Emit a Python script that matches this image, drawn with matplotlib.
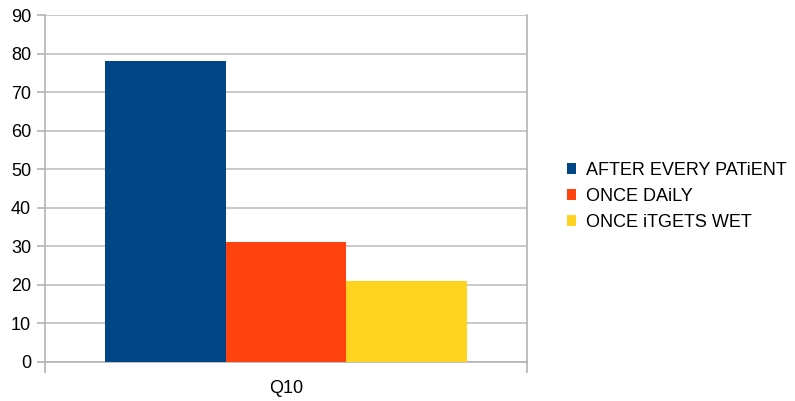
import matplotlib.pyplot as plt
from matplotlib.patches import Patch

plt.rcParams['font.family'] = ['Liberation Sans', 'DejaVu Sans']

categoria = 'Q10'
series = ['AFTER EVERY PATiENT', 'ONCE DAiLY', 'ONCE iTGETS WET']
valores = [78, 31, 21]
cores = ['#004586', '#ff420e', '#ffd320']

fig = plt.figure(figsize=(7.95, 4.01), dpi=100)
ax = fig.add_axes([45 / 795, 39 / 401, 482 / 795, 347 / 401])

posicoes = [-1, 0, 1]
for x, v, c in zip(posicoes, valores, cores):
    ax.bar(x, v, width=1.0, color=c, zorder=3)

ax.set_xlim(-2, 2)
ax.set_ylim(0, 90)
ax.set_yticks(range(0, 91, 10))
ax.yaxis.grid(True, color='#c0c0c0', linewidth=1.2, zorder=0)

ax.set_xticks([0])
ax.set_xticklabels([categoria])
ax.set_xticks([-2, 2], minor=True)
ax.tick_params(axis='x', which='major', length=0, pad=13, labelsize=13)
ax.tick_params(axis='x', which='minor', length=8, color='#b3b3b3', width=1.2)
ax.tick_params(axis='y', length=6, color='#b3b3b3', width=1.2, pad=4, labelsize=13)

for lado in ['left', 'right', 'bottom', 'top']:
    ax.spines[lado].set_color('#b3b3b3')
    ax.spines[lado].set_linewidth(1.2)
ax.spines['top'].set_visible(False)

handles = [Patch(facecolor=c, label=s) for s, c in zip(series, cores)]
fig.legend(handles=handles, loc='center left', bbox_to_anchor=(551 / 795, 0.51),
           frameon=False, fontsize=13, handlelength=0.5, handleheight=0.5,
           handletextpad=0.55, labelspacing=0.5)

fig.savefig('out.png', dpi=100)
